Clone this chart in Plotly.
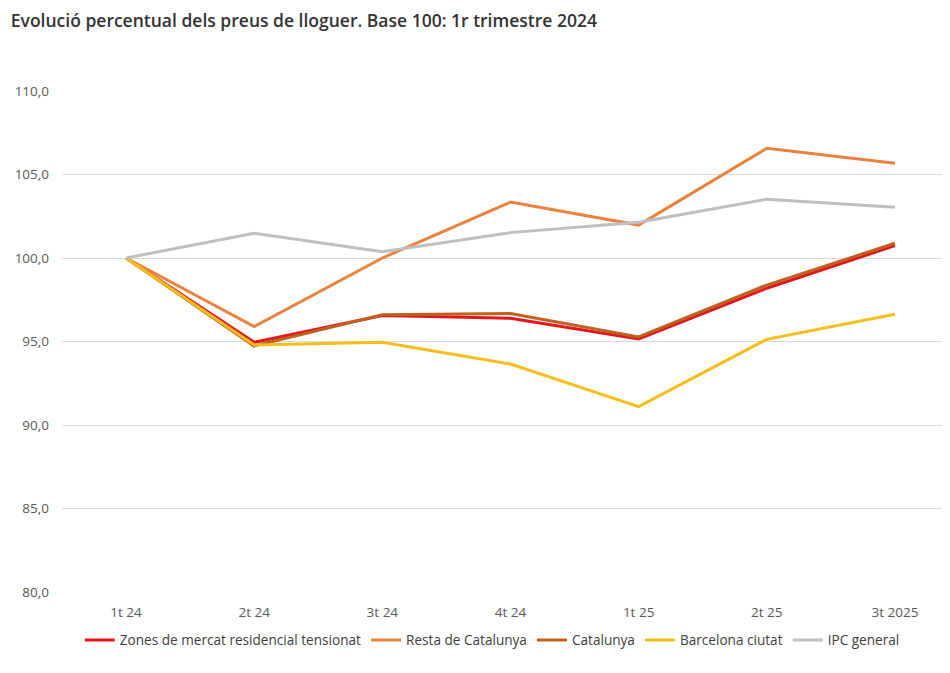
import plotly.graph_objects as go

categories = ["1t 24", "2t 24", "3t 24", "4t 24", "1t 25", "2t 25", "3t 2025"]
zones = [100.0, 94.95, 96.55, 96.39, 95.15, 98.19, 100.74]
resta = [100.0, 95.9, 100.0, 103.35, 101.97, 106.57, 105.67]
catalunya = [100.0, 94.73, 96.6, 96.67, 95.27, 98.38, 100.88]
barcelona = [100.0, 94.79, 94.95, 93.65, 91.1, 95.13, 96.63]
ipc = [100.0, 101.48, 100.38, 101.52, 102.14, 103.52, 103.04]

series = [
    ("Zones de mercat residencial tensionat", zones, "#E3161B"),
    ("Resta de Catalunya", resta, "#E8823C"),
    ("Catalunya", catalunya, "#C0601F"),
    ("Barcelona ciutat", barcelona, "#F4BF1A"),
    ("IPC general", ipc, "#BFBFBF"),
]

fig = go.Figure()
for name, vals, color in series:
    fig.add_trace(go.Scatter(
        x=list(range(len(categories))), y=vals, name=name, mode="lines",
        line=dict(color=color, width=3),
    ))

fig.update_layout(
    width=942, height=665,
    paper_bgcolor="white", plot_bgcolor="white",
    margin=dict(l=54, r=0, t=83, b=81),
    separators=",.",
    font=dict(family="Open Sans", size=13, color="#595959"),
    title=dict(
        text="Evolució percentual dels preus de lloguer. Base 100: 1r trimestre 2024",
        x=0.003, xanchor="left", y=0.98, yanchor="middle",
        font=dict(family="Open Sans", size=17.5, color="#333333", weight=600),
    ),
    xaxis=dict(
        tickmode="array", tickvals=list(range(len(categories))), ticktext=categories,
        range=[-0.5, 6.43], showgrid=False, zeroline=False,
        showline=False, ticks="", ticklabelstandoff=10,
        tickfont=dict(size=13.5, color="#595959"),
    ),
    yaxis=dict(
        range=[80, 110], dtick=5, tickformat=".1f",
        showgrid=True, gridcolor="#D9D9D9", gridwidth=1,
        zeroline=False, showline=False, ticks="", ticklabelstandoff=12,
        tickfont=dict(size=13.5, color="#595959"),
    ),
    legend=dict(
        orientation="h", x=0.02, xanchor="left", y=-0.096, yanchor="middle",
        font=dict(size=13.6, color="#404040"), itemwidth=30, tracegroupgap=0,
    ),
    showlegend=True,
)

fig.write_html("out.html")
